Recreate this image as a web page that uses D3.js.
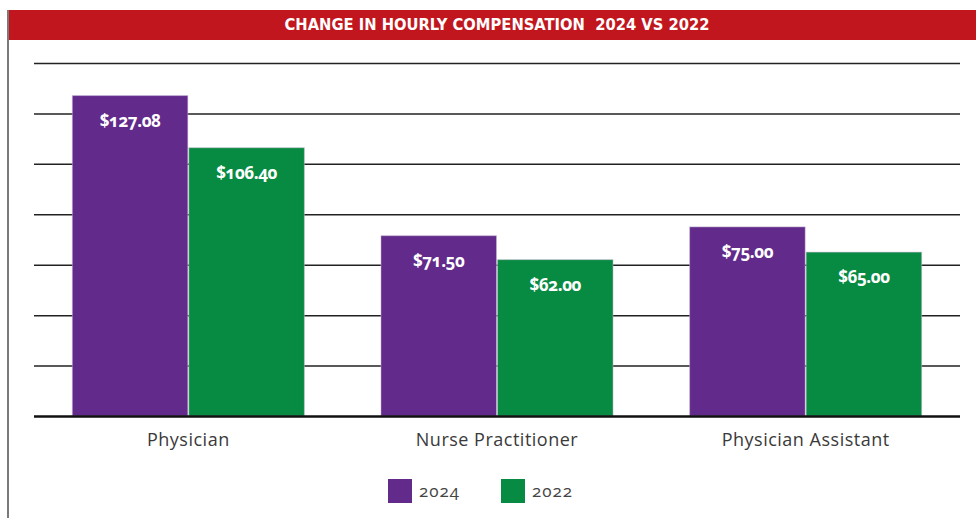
<!DOCTYPE html>
<html><head><meta charset="utf-8">
<script src="https://cdn.jsdelivr.net/npm/d3@7/dist/d3.min.js"></script>
<style>body{margin:0;background:#fff}svg{display:block}</style>
</head><body>
<svg id="c" width="976" height="518"></svg>
<script>
const categories = ["Physician", "Nurse Practitioner", "Physician Assistant"];
const seriesNames = ["2024", "2022"];
const values2024 = [127.08, 71.50, 75.00];
const values2022 = [106.40, 62.00, 65.00];
const valueLabels2024 = ["$127.08", "$71.50", "$75.00"];
const valueLabels2022 = ["$106.40", "$62.00", "$65.00"];
const yTicks = [0, 20, 40, 60, 80, 100, 120, 140];
const title = "CHANGE IN HOURLY COMPENSATION  2024 VS 2022";
const colors = {"2024": "#612a8b", "2022": "#078b42"};

(function () {
const svg = d3.select("#c");
const W = 976, H = 518;
const pL = 34, pR = 960, pT = 63, pB = 416;

// title bar
svg.append("rect").attr("x", 7).attr("y", 10).attr("width", W - 7).attr("height", 30).attr("fill", "#c1161d");
svg.append("text").attr("x", 497).attr("y", 30).attr("text-anchor", "middle")
  .attr("fill", "#fff").attr("font-family", "'Liberation Sans Narrow','DejaVu Sans Condensed',sans-serif")
  .attr("font-weight", "bold").attr("font-size", 16.5).attr("textLength", 425).attr("lengthAdjust", "spacingAndGlyphs")
  .style("white-space", "pre").text(title);
// left border
svg.append("line").attr("x1", 8).attr("x2", 8).attr("y1", 10).attr("y2", H).attr("stroke", "#7a7a7a").attr("stroke-width", 2);

const y = d3.scaleLinear().domain([0, 140]).range([pB, pT]);
const x0 = d3.scaleBand().domain(categories).range([pL, pR]).paddingInner(0.245).paddingOuter(0.1225);
const x1 = d3.scaleBand().domain(seriesNames).range([0, x0.bandwidth()]);

// grid
const grid = svg.append("g").attr("transform", `translate(${pL},0)`)
  .call(d3.axisLeft(y).tickValues(yTicks.filter(t => t > 0)).tickSize(-(pR - pL)).tickFormat(""));
grid.select(".domain").remove();
grid.selectAll(".tick line").attr("stroke", "#222").attr("stroke-width", 1.5);

const data = categories.map((c, i) => ({cat: c, vals: [
  {s: "2024", v: values2024[i], label: valueLabels2024[i]},
  {s: "2022", v: values2022[i], label: valueLabels2022[i]}]}));

const groups = svg.selectAll("g.grp").data(data).join("g").attr("class", "grp")
  .attr("transform", d => `translate(${x0(d.cat)},0)`);
groups.selectAll("rect").data(d => d.vals).join("rect")
  .attr("x", d => x1(d.s) + 0.5).attr("width", x1.bandwidth() - 1)
  .attr("y", d => y(d.v)).attr("height", d => y(0) - y(d.v))
  .attr("fill", d => colors[d.s]).attr("stroke", "#c9b9d6").attr("stroke-opacity", 0.5).attr("stroke-width", 1);
groups.selectAll("text").data(d => d.vals).join("text")
  .attr("x", d => x1(d.s) + x1.bandwidth() / 2).attr("y", d => y(d.v) + 31)
  .attr("text-anchor", "middle").attr("fill", "#fff").attr("font-weight", "bold")
  .attr("font-family", "'Open Sans',sans-serif").attr("font-size", 17).attr("letter-spacing", -0.4)
  .style("font-variant-numeric", "oldstyle-nums").text(d => d.label);

// baseline
svg.append("line").attr("x1", pL).attr("x2", pR).attr("y1", pB + 0.5).attr("y2", pB + 0.5).attr("stroke", "#111").attr("stroke-width", 2.5);

// x axis labels
const xa = svg.append("g").attr("transform", `translate(0,${pB})`).call(d3.axisBottom(x0).tickSize(0).tickPadding(17));
xa.select(".domain").remove();
xa.selectAll("text").attr("font-family", "'Open Sans',sans-serif").attr("font-size", 18).attr("letter-spacing", 0.5)
  .attr("fill", "#3a3a3a");

// legend
const leg = svg.append("g");
const legX = [388, 501];
seriesNames.forEach((s, i) => {
  leg.append("rect").attr("x", legX[i]).attr("y", 479).attr("width", 24).attr("height", 24).attr("fill", colors[s]);
  leg.append("text").attr("x", legX[i] + 31).attr("y", 497).attr("font-family", "'Open Sans',sans-serif")
    .attr("font-size", 17).attr("letter-spacing", 1).attr("fill", "#444")
    .style("font-variant-numeric", "oldstyle-nums").text(s);
});
})();
</script>
</body></html>
